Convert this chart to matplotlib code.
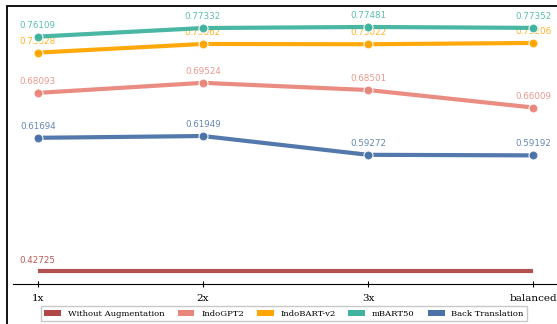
import matplotlib
matplotlib.use("Agg")
import matplotlib.pyplot as plt
from matplotlib.patches import Patch, Rectangle

categories = ["1x", "2x", "3x", "balanced"]
baseline = 0.42725
indogpt2 = [0.68093, 0.69524, 0.68501, 0.66009]
indobart = [0.73828, 0.75062, 0.75022, 0.75206]
mbart50 = [0.76109, 0.77332, 0.77481, 0.77352]
backtrans = [0.61694, 0.61949, 0.59272, 0.59192]

series = [
    ("IndoGPT2", indogpt2, "#E9867A"),
    ("IndoBART-v2", indobart, "#FFA500"),
    ("mBART50", mbart50, "#3FB39E"),
    ("Back Translation", backtrans, "#4A72A8"),
]
base_color = "#B04848"

fig = plt.figure(figsize=(5.57, 3.24), dpi=100)
fig.patch.set_facecolor("white")
# frame of the original figure
fig.add_artist(Rectangle((7 / 557, -0.1), 1.2, (324 - 6) / 324 + 0.1,
                         transform=fig.transFigure, fill=False,
                         edgecolor="black", linewidth=1.3))

ax = fig.add_axes([13 / 557, (324 - 284) / 324, (558 - 13) / 557, (284 - 6) / 324])
x = list(range(len(categories)))

ax.plot(x, [baseline] * len(x), color=base_color, lw=3, alpha=0.95,
        solid_capstyle="butt", zorder=2)
ax.annotate(f"{baseline:.5f}", (x[0], baseline), xytext=(0, 4),
            textcoords="offset points", ha="center", va="bottom",
            fontsize=6.3, color=base_color, alpha=0.9)

for name, vals, col in series:
    ax.plot(x, vals, color=col, lw=3, marker="o", markersize=6.5,
            markeredgecolor="white", markeredgewidth=0.8, alpha=0.95, zorder=3)
    for xi, v in zip(x, vals):
        ax.annotate(f"{v:.5f}", (xi, v), xytext=(0, 5),
                    textcoords="offset points", ha="center", va="bottom",
                    fontsize=6.3, color=col, alpha=0.85)

ax.set_xlim(-0.15, 3.15)
ax.set_ylim(0.4087, 0.8047)
ax.set_xticks(x)
ax.set_xticklabels(categories, fontfamily="DejaVu Serif", fontsize=7.5)
ax.set_yticks([])
for s in ["left", "right", "top"]:
    ax.spines[s].set_visible(False)
ax.spines["bottom"].set_linewidth(0.8)
ax.tick_params(axis="x", direction="inout", length=5, width=0.8, pad=5)
ax.set_facecolor("white")

handles = [Patch(facecolor=base_color, label="Without Augmentation")]
handles += [Patch(facecolor=c, label=n) for n, _, c in series]
leg = fig.legend(handles=handles, loc="lower center", ncol=5,
                 bbox_to_anchor=(0.51, -0.005), frameon=True,
                 prop={"family": "DejaVu Serif", "size": 6.1},
                 handlelength=2.0, handleheight=0.8, columnspacing=1.5,
                 handletextpad=0.8,
                 borderpad=0.4, fancybox=False, edgecolor="#bbbbbb")

fig.savefig("out.png", dpi=100)
